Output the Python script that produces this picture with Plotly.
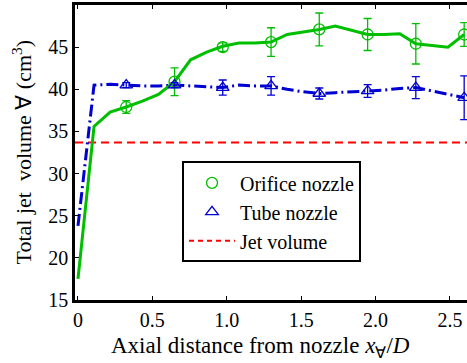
import plotly.graph_objects as go

# ---------------- data ----------------
line_x = [0.0, 0.108, 0.216, 0.3245, 0.433, 0.541, 0.649, 0.757, 0.865, 0.973,
          1.082, 1.19, 1.298, 1.406, 1.514, 1.622, 1.73, 1.838, 1.947, 2.055,
          2.163, 2.271, 2.379, 2.487, 2.596]
orifice_line = [17.5, 35.6, 37.3, 37.9, 38.6, 39.4, 40.9, 43.5, 44.4, 45.1,
                45.5, 45.5, 45.6, 46.5, 46.8, 47.1, 47.5, 47.0, 46.5, 46.5,
                46.6, 45.4, 45.2, 45.0, 46.5]
tube_line = [23.8, 40.5, 40.6, 40.5, 40.4, 40.4, 40.5, 40.4, 40.3, 40.2,
             40.5, 40.4, 40.4, 40.0, 39.7, 39.5, 39.6, 39.7, 39.8, 39.9,
             40.1, 40.2, 39.8, 39.4, 39.0]

marker_x = [0.3245, 0.649, 0.973, 1.298, 1.622, 1.947, 2.271, 2.596]
orifice_mean = [37.9, 40.9, 45.0, 45.6, 47.1, 46.5, 45.4, 46.5]
orifice_err = [0.75, 1.65, 0.5, 1.7, 1.95, 1.9, 2.4, 1.4]
tube_mean = [40.5, 40.5, 40.2, 40.4, 39.5, 39.8, 40.2, 39.0]
tube_err = [0.3, 0.3, 0.9, 1.1, 0.65, 0.75, 1.3, 2.6]

jet_volume = 33.7

x_range = [-0.02, 2.615]
y_range = [15, 50]
x_ticks = [0, 0.5, 1.0, 1.5, 2.0, 2.5]
x_ticklabels = ["0", "0.5", "1.0", "1.5", "2.0", "2.5"]
y_ticks = [15, 20, 25, 30, 35, 40, 45]

GREEN = "rgb(0,190,0)"
BLUE = "rgb(0,0,210)"
RED = "rgb(255,0,0)"
FONT = "Liberation Serif"

fig = go.Figure()

# jet volume reference line
fig.add_trace(go.Scatter(
    x=x_range, y=[jet_volume, jet_volume], mode="lines",
    line=dict(color=RED, width=2, dash="8px,5px"),
    name="Jet volume", showlegend=False))

# tube line
fig.add_trace(go.Scatter(
    x=line_x, y=tube_line, mode="lines",
    line=dict(color=BLUE, width=3, dash="12px,4px,2px,4px"),
    showlegend=False))

# orifice line
fig.add_trace(go.Scatter(
    x=line_x, y=orifice_line, mode="lines",
    line=dict(color=GREEN, width=3), showlegend=False))

# orifice markers
fig.add_trace(go.Scatter(
    x=marker_x, y=orifice_mean, mode="markers", name="Orifice nozzle",
    marker=dict(symbol="circle-open", size=11, color=GREEN, line=dict(width=1.3)),
    error_y=dict(type="data", array=orifice_err, color=GREEN, thickness=1.3, width=4)))

# tube markers
fig.add_trace(go.Scatter(
    x=marker_x, y=tube_mean, mode="markers", name="Tube nozzle",
    marker=dict(symbol="triangle-up-open", size=11, color=BLUE, line=dict(width=1.3)),
    error_y=dict(type="data", array=tube_err, color=BLUE, thickness=1.3, width=4)))

# legend-only entry for jet volume
fig.add_trace(go.Scatter(
    x=[None], y=[None], mode="lines", name="Jet volume",
    line=dict(color=RED, width=2, dash="5px,4px")))

axis_common = dict(
    showgrid=False, zeroline=False, showline=True, linecolor="black", linewidth=2.5,
    ticks="inside", ticklen=4, tickwidth=1, tickcolor="black",
    tickfont=dict(family=FONT, size=20, color="black"))

fig.update_xaxes(range=x_range, tickvals=x_ticks, ticktext=x_ticklabels,
                 mirror="ticks", **axis_common)
fig.update_yaxes(range=y_range, tickvals=y_ticks, mirror=False, **axis_common)

fig.update_layout(
    width=467, height=363,
    margin=dict(l=75, r=0, t=5, b=63),
    plot_bgcolor="white", paper_bgcolor="white",
    font=dict(family=FONT, size=20, color="black"),
    legend=dict(x=0.273, y=0.47, xanchor="left", yanchor="top",
                bgcolor="white", bordercolor="black", borderwidth=2,
                font=dict(family=FONT, size=20), tracegroupgap=0,
                itemwidth=46),
    annotations=[
        dict(text="Axial distance from nozzle <i>x</i><sub>∀</sub>/<i>D</i>",
             xref="paper", yref="paper", x=(260 - 75) / 392, y=-0.105,
             xanchor="center", yanchor="top", showarrow=False,
             font=dict(family=FONT, size=23)),
        dict(text="Total jet\u00a0 volume ∀ (cm<sup>3</sup>)",
             xref="paper", yref="paper", x=(21 - 75) / 392, y=0.5,
             xanchor="center", yanchor="middle", textangle=-90, showarrow=False,
             font=dict(family=FONT, size=22)),
    ],
)

fig.write_html("out.html")
